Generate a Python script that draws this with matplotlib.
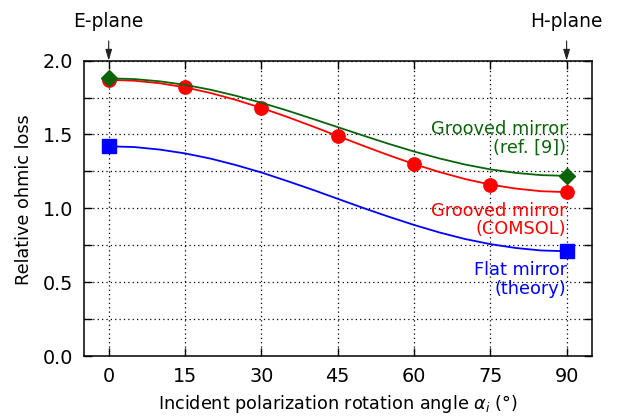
import matplotlib
matplotlib.use("Agg")
import matplotlib.pyplot as plt
import numpy as np

GREEN, RED, BLUE = "#0a640a", "#ff0000", "#0000ff"

# smooth curves, every 5 degrees
curve_angle = [0, 5, 10, 15, 20, 25, 30, 35, 40, 45, 50, 55, 60, 65, 70, 75, 80, 85, 90]
ref9_curve = [1.88, 1.875, 1.86, 1.836, 1.803, 1.762, 1.715, 1.663, 1.607, 1.55,
              1.493, 1.437, 1.385, 1.338, 1.297, 1.264, 1.24, 1.225, 1.22]
comsol_curve = [1.87, 1.864, 1.847, 1.819, 1.781, 1.734, 1.68, 1.62, 1.556, 1.49,
                1.424, 1.36, 1.30, 1.246, 1.199, 1.161, 1.134, 1.116, 1.11]
flat_curve = [1.42, 1.415, 1.398, 1.372, 1.337, 1.293, 1.243, 1.186, 1.127, 1.065,
              1.003, 0.944, 0.888, 0.837, 0.793, 0.758, 0.732, 0.715, 0.71]

# markers
comsol_angle = [0, 15, 30, 45, 60, 75, 90]
comsol_loss = [1.87, 1.82, 1.68, 1.49, 1.30, 1.16, 1.11]
end_angle = [0, 90]
ref9_loss = [1.88, 1.22]
flat_loss = [1.42, 0.71]

xticks = [0, 15, 30, 45, 60, 75, 90]
yticks = [0.0, 0.25, 0.5, 0.75, 1.0, 1.25, 1.5, 1.75, 2.0]

plt.rcParams["font.family"] = "DejaVu Sans"

fig = plt.figure(figsize=(6.18, 4.18), dpi=100)
fig.subplots_adjust(left=0.136, right=0.958, top=0.855, bottom=0.148)
ax = fig.add_subplot(111)

ax.plot(curve_angle, flat_curve, color=BLUE, lw=1.3, zorder=3)
ax.plot(end_angle, flat_loss, ls="none", marker="s", ms=10, color=BLUE, zorder=4)
ax.plot(curve_angle, comsol_curve, color=RED, lw=1.3, zorder=3)
ax.plot(comsol_angle, comsol_loss, ls="none", marker="o", ms=9.6, color=RED, zorder=4)
ax.plot(curve_angle, ref9_curve, color=GREEN, lw=1.3, zorder=5)
ax.plot(end_angle, ref9_loss, ls="none", marker="D", ms=7.8, color=GREEN, zorder=6)

ax.set_xlim(-4.85, 95)
ax.set_ylim(0, 2.0)
ax.set_xticks(xticks)
ax.set_yticks(yticks)
ax.set_yticklabels([f"{v:.1f}" if (v * 2) % 1 == 0 else "" for v in yticks])
ax.tick_params(direction="in", length=6, width=1, top=True, right=True,
               labelsize=13.8, pad=8)
ax.grid(True, ls=(0, (1, 2.5)), color="black", lw=0.9)
for s in ax.spines.values():
    s.set_linewidth(1.1)

ax.set_xlabel(r"Incident polarization rotation angle $\alpha_i$ (°)", fontsize=12.7,
              labelpad=5)
ax.set_ylabel("Relative ohmic loss", fontsize=12.7)
ax.yaxis.set_label_coords(-0.1, 0.53)

ax.text(90, 1.473, "Grooved mirror\n(ref. [9])", color=GREEN, fontsize=12.8,
        ha="right", va="center", multialignment="right", linespacing=1.05)
ax.text(90, 0.921, "Grooved mirror\n(COMSOL)", color=RED, fontsize=12.8,
        ha="right", va="center", multialignment="right", linespacing=1.05)
ax.text(90, 0.518, "Flat mirror\n(theory)", color=BLUE, fontsize=12.8,
        ha="right", va="center", multialignment="right", linespacing=1.05)

for x, lab in [(0, "E-plane"), (90, "H-plane")]:
    ax.annotate(lab, xy=(x, 2.0), xytext=(0, 28), textcoords="offset points",
                ha="center", va="center", fontsize=13.4, annotation_clip=False,
                arrowprops=dict(arrowstyle="-|>,head_length=0.5,head_width=0.15",
                                color="#222222", lw=0.8, shrinkA=5, shrinkB=0))

fig.savefig("out.png", dpi=100)
